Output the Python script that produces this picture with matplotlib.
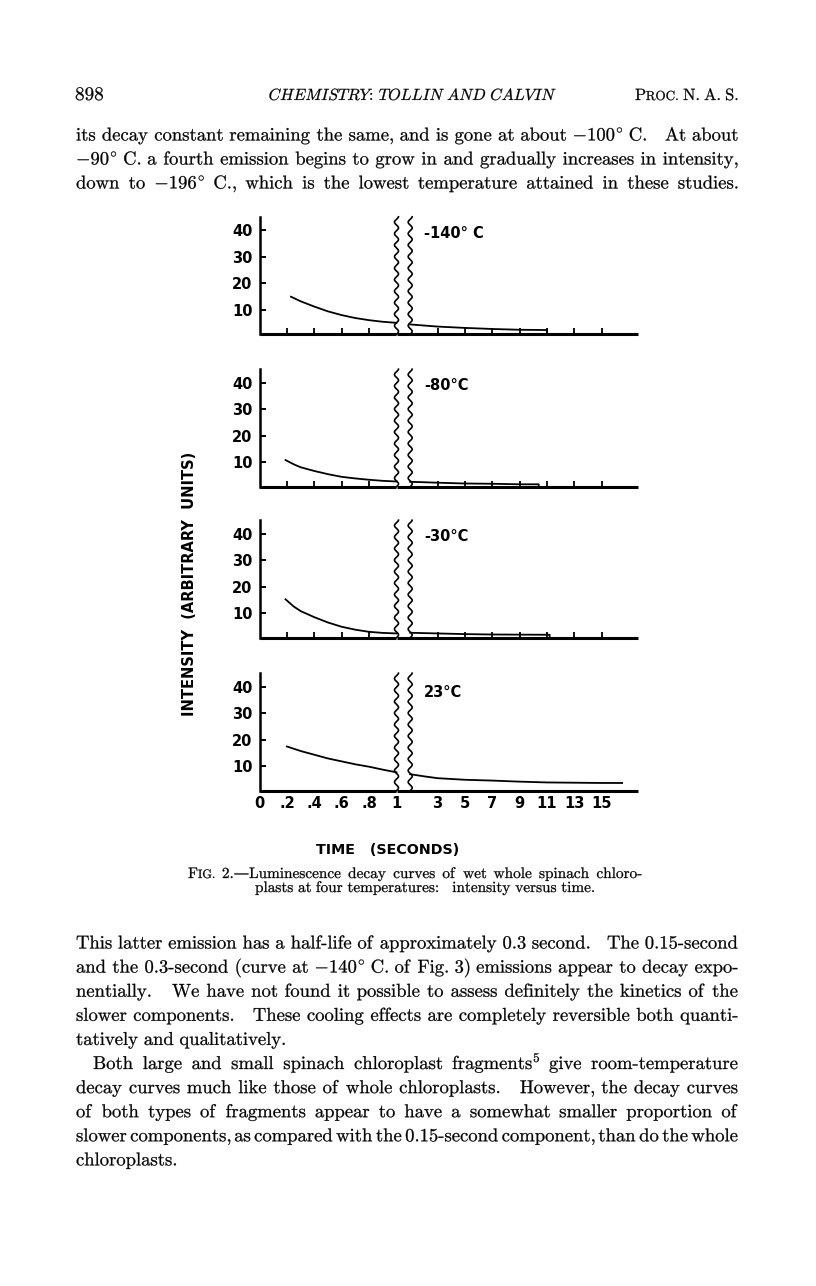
import re
import numpy as np
import matplotlib
matplotlib.use('Agg')
import matplotlib.pyplot as plt
import matplotlib.transforms as mtransforms
from matplotlib.textpath import TextPath
from matplotlib.patches import PathPatch
from matplotlib.font_manager import FontProperties

plt.rcParams['mathtext.fontset'] = 'cm'
plt.rcParams['axes.unicode_minus'] = False

W, H = 816, 1286

# ---- values ----
temps = ['-140° C', '-80°C', '-30°C', '23°C']

# fast part (0 - 1 s)
t_fast = [
    [0.23, 0.3, 0.4, 0.5, 0.6, 0.7, 0.8, 0.9, 1.0],
    [0.19, 0.25, 0.3, 0.4, 0.5, 0.6, 0.7, 0.8, 0.9, 1.0],
    [0.19, 0.25, 0.3, 0.4, 0.5, 0.6, 0.7, 0.8, 0.9, 1.0],
    [0.2, 0.3, 0.4, 0.5, 0.6, 0.7, 0.8, 0.9, 1.0],
]
i_fast = [
    [15.0, 13.3, 11.3, 9.5, 8.1, 7.0, 6.2, 5.6, 5.2],
    [10.9, 9.3, 8.2, 6.8, 5.6, 4.6, 4.0, 3.5, 3.1, 2.85],
    [15.3, 12.6, 10.9, 8.6, 6.6, 5.0, 3.9, 3.1, 2.7, 2.5],
    [17.5, 15.8, 14.4, 13.0, 11.9, 10.8, 9.9, 8.8, 7.8],
]
# slow part (1 - 17 s)
t_slow = [
    [1, 2, 3, 5, 7, 9, 11],
    [1, 3, 5, 7, 9, 10.4],
    [1, 3, 5, 7, 9, 11.2],
    [1, 2, 3, 5, 7, 9, 11, 13, 15, 16.5],
]
i_slow = [
    [4.6, 4.2, 3.8, 3.3, 2.9, 2.6, 2.5],
    [2.75, 2.4, 2.1, 2.0, 1.8, 1.8],
    [2.75, 2.5, 2.25, 2.1, 2.05, 2.0],
    [7.1, 6.3, 5.6, 5.0, 4.7, 4.3, 4.0, 3.9, 3.8, 3.8],
]
end_drop = [True, True, True, False]

y_ticks = [10, 20, 30, 40]
fast_ticks = [0.2, 0.4, 0.6, 0.8]
fast_lab_ticks = [0, 0.2, 0.4, 0.6, 0.8, 1.0]
fast_labels = ['0', '.2', '.4', '.6', '.8', '1']
slow_ticks = [3, 5, 7, 9, 11, 13, 15]
slow_labels = ['3', '5', '7', '9', '11', '13', '15']

header_left = '898'
header_mid = r'$\mathit{CHEMISTRY}$: $\mathit{TOLLIN\ AND\ CALVIN}$'
header_right = 'PROC. N. A. S.'
para_top = [
    r'its decay constant remaining the same, and is gone at about $-100^{\!\circ}$ C.   At about',
    r'$-90^{\!\circ}$ C. a fourth emission begins to grow in and gradually increases in intensity,',
    r'down to $-196^{\!\circ}$ C., which is the lowest temperature attained in these studies.',
]
caption = [
    'FIG. 2.—Luminescence decay curves of wet whole spinach chloro-',
    'plasts at four temperatures:   intensity versus time.',
]
para_bottom = [
    'This latter emission has a half-life of approximately 0.3 second.   The 0.15-second',
    r'and the 0.3-second (curve at $-140^{\!\circ}$ C. of Fig. 3) emissions appear to decay expo-',
    'nentially.   We have not found it possible to assess definitely the kinetics of the',
    'slower components.   These cooling effects are completely reversible both quanti-',
    'tatively and qualitatively.',
    r'Both large and small spinach chloroplast fragments$^5$ give room-temperature',
    'decay curves much like those of whole chloroplasts.   However, the decay curves',
    'of both types of fragments appear to have a somewhat smaller proportion of',
    'slower components, as compared with the 0.15-second component, than do the whole',
    'chloroplasts.',
]

SERIF = FontProperties(family=['cmr10', 'DejaVu Serif'])
SANS = dict(family='DejaVu Sans', fontweight='bold')
BODY = 13.4
X0, X1 = 76, 738

fig = plt.figure(figsize=(W / 100, H / 100), dpi=100)
fig.patch.set_facecolor('white')


def word_path(s, size):
    # glyph outlines in pixel units, baseline at y = 0
    return TextPath((0, 0), s, size=size * 100 / 72, prop=SERIF)


def parts(word, size):
    # small caps for FIG. / PROC.
    if word in ('FIG.', 'PROC.'):
        return [(word[0], size), (word[1:], size * 0.8)]
    return [(word, size)]


def draw_path(path, x, y):
    tr = (mtransforms.Affine2D().translate(x, H - y).scale(1 / W, 1 / H)
          + fig.transFigure)
    fig.add_artist(PathPatch(path, transform=tr, fc='black', ec='black', lw=0.2))


def put_line(s, y, x0=X0, x1=X1, size=BODY, justify=True, right=False):
    tokens = re.split(r'( +)', s.strip())
    words = tokens[0::2]
    gaps = [len(g) for g in tokens[1::2]]
    pieces = []
    for w in words:
        pw = []
        for p, sz in parts(w, size):
            path = word_path(p, sz)
            pw.append((path, path.get_extents().x1 + 0.6))
        pieces.append(pw)
    widths = [sum(wd for _, wd in pw) for pw in pieces]
    if justify and gaps:
        unit = (x1 - x0 - sum(widths)) / sum(gaps)
    else:
        unit = size * 100 / 72 * 0.3
    if right:
        x0 = x1 - sum(widths) - unit * sum(gaps)
    x = x0
    for k, pw in enumerate(pieces):
        xx = x
        for path, wd in pw:
            draw_path(path, xx, y)
            xx += wd
        if k < len(gaps):
            x += widths[k] + unit * gaps[k]


# ---- page text ----
put_line(header_left, 100, x0=75, size=13.8, justify=False)
mid = word_path(header_mid, 11.6)
draw_path(mid, 412 - mid.get_extents().x1 / 2, 100)
put_line(header_right, 100, x1=738, size=11.8, justify=False, right=True)

for k, s in enumerate(para_top):
    put_line(s, 140.5 + 24 * k)

put_line(caption[0], 878, x0=188, x1=642, size=11)
put_line(caption[1], 892, x0=255, size=11, justify=False)

for k, s in enumerate(para_bottom):
    last = k in (4, 9)
    x0 = 93 if k == 5 else X0
    put_line(s, 948.5 + 24.1 * k, x0=x0, justify=not last)

# ---- the figure ----
x_left, x_mid, x_right = 259.5, 396.5, 637.5
px_slow = 13.675          # pixels per second on the slow scale
bottoms = [334.3, 486.7, 637.7, 790.7]
hgt = 117.5
ylim = (0.9, 45)
yy = np.linspace(0, 1, 600)
wig = 2.0 * np.sin(2 * np.pi * yy * hgt / 11.5)

for k in range(4):
    b = bottoms[k]
    axl = fig.add_axes([x_left / W, 1 - b / H, (x_mid - x_left) / W, hgt / H])
    axr = fig.add_axes([x_mid / W, 1 - b / H, (x_right - x_mid) / W, hgt / H])
    axl.set_xlim(0, 1)
    axr.set_xlim(0, (x_right - x_mid) / px_slow)
    for ax in (axl, axr):
        ax.set_ylim(*ylim)
        ax.patch.set_facecolor('none')
        for sp in ('top', 'right', 'left'):
            ax.spines[sp].set_visible(False)
        ax.spines['bottom'].set_linewidth(2.2)
        ax.spines['bottom'].set_capstyle('butt')
    axl.spines['left'].set_visible(True)
    axl.spines['left'].set_linewidth(1.8)

    # curves
    axl.plot(t_fast[k], i_fast[k], color='k', lw=1.3, clip_on=False)
    ts, vs = list(t_slow[k]), list(i_slow[k])
    if end_drop[k]:
        ts.append(ts[-1])
        vs.append(ylim[0])
    axr.plot(ts, vs, color='k', lw=1.3, clip_on=False)

    # wavy break lines at 1 s on both scales
    for ax, scale in ((axl, x_mid - x_left), (axr, px_slow)):
        tr = mtransforms.blended_transform_factory(ax.transData, ax.transAxes)
        ax.plot(1 + wig / scale, yy, color='k', lw=1.2, transform=tr, clip_on=False)

    # y ticks
    axl.set_yticks(y_ticks, labels=[str(v) for v in y_ticks], fontsize=10.5, **SANS)
    axl.tick_params(axis='y', direction='in', length=4, width=1.4, pad=5)
    axr.set_yticks([])

    if k < 3:
        axl.set_xticks(fast_ticks, labels=[])
        axr.set_xticks(slow_ticks, labels=[])
        for ax in (axl, axr):
            ax.tick_params(axis='x', direction='in', length=4.5, width=1.3)
    else:
        axl.set_xticks(fast_lab_ticks, labels=fast_labels, fontsize=10.5, **SANS)
        axr.set_xticks(slow_ticks, labels=slow_labels, fontsize=10.5, **SANS)
        for ax in (axl, axr):
            ax.tick_params(axis='x', length=0, pad=4)

    tr = mtransforms.blended_transform_factory(axr.transData, axr.transAxes)
    axr.text(2.0, 0.86 if k < 3 else 0.84, temps[k], transform=tr, fontsize=10.5,
             va='center', ha='left', **SANS)

fig.text(190 / W, 1 - 584 / H, 'INTENSITY  (ARBITRARY  UNITS)', rotation=90,
         ha='center', va='center', fontsize=10.5, **SANS)
fig.text(388 / W, 1 - 850 / H, 'TIME   (SECONDS)', ha='center', va='center',
         fontsize=10.3, **SANS)

fig.savefig('out.png', dpi=100)
